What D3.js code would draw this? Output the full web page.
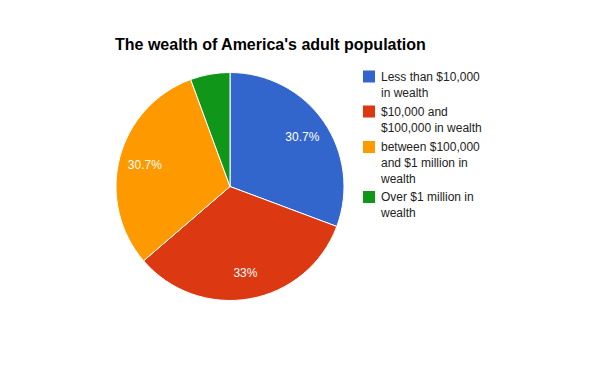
<!DOCTYPE html>
<html><head><meta charset="utf-8">
<script src="https://cdn.jsdelivr.net/npm/d3@7"></script>
<style>body{margin:0;background:#fff}</style>
</head><body>
<script>
const categories = ["Less than $10,000 in wealth", "$10,000 and $100,000 in wealth", "between $100,000 and $1 million in wealth", "Over $1 million in wealth"];
const legendLines = [["Less than $10,000", "in wealth"], ["$10,000 and", "$100,000 in wealth"], ["between $100,000", "and $1 million in", "wealth"], ["Over $1 million in", "wealth"]];
const values = [30.7, 33, 30.7, 5.6];
const labels = ["30.7%", "33%", "30.7%", ""];
const colors = ["#3366cc", "#dc3912", "#ff9900", "#109618"];
const title = "The wealth of America's adult population";

const W = 600, H = 371;
const svg = d3.select("body").append("svg").attr("width", W).attr("height", H)
  .style("font-family", "Arial, 'Liberation Sans', sans-serif");
svg.append("rect").attr("width", W).attr("height", H).attr("fill", "#fff");

svg.append("text").attr("x", 115).attr("y", 50).attr("font-size", 16).attr("font-weight", "bold")
  .attr("fill", "#000").text(title);

const cx = 230, cy = 186.5, r = 114;
const pie = d3.pie().sort(null).value(d => d);
const arcs = pie(values);
const arc = d3.arc().innerRadius(0).outerRadius(r);
const labelArc = d3.arc().innerRadius(88).outerRadius(88);
const g = svg.append("g").attr("transform", `translate(${cx},${cy})`);
g.selectAll("path").data(arcs).join("path")
  .attr("d", arc).attr("fill", (d, i) => colors[i])
  .attr("stroke", "#fff").attr("stroke-width", 1);
g.selectAll("text").data(arcs).join("text")
  .attr("transform", d => `translate(${labelArc.centroid(d)})`)
  .attr("text-anchor", "middle").attr("dy", "0.35em")
  .attr("font-size", 12).attr("fill", "#fff")
  .text((d, i) => labels[i]);

const lg = svg.append("g").attr("transform", "translate(363,0)");
const itemY = [76.5, 111.5, 147, 197];
const lineH = 16;
legendLines.forEach((lines, i) => {
  const y0 = itemY[i];
  lg.append("rect").attr("x", 0).attr("y", y0 - 6).attr("width", 12).attr("height", 12).attr("fill", colors[i]);
  lines.forEach((t, j) => {
    lg.append("text").attr("x", 18).attr("y", y0 + j * lineH).attr("dy", "0.35em")
      .attr("font-size", 12).attr("fill", "#222").text(t);
  });
});
</script>
</body></html>
